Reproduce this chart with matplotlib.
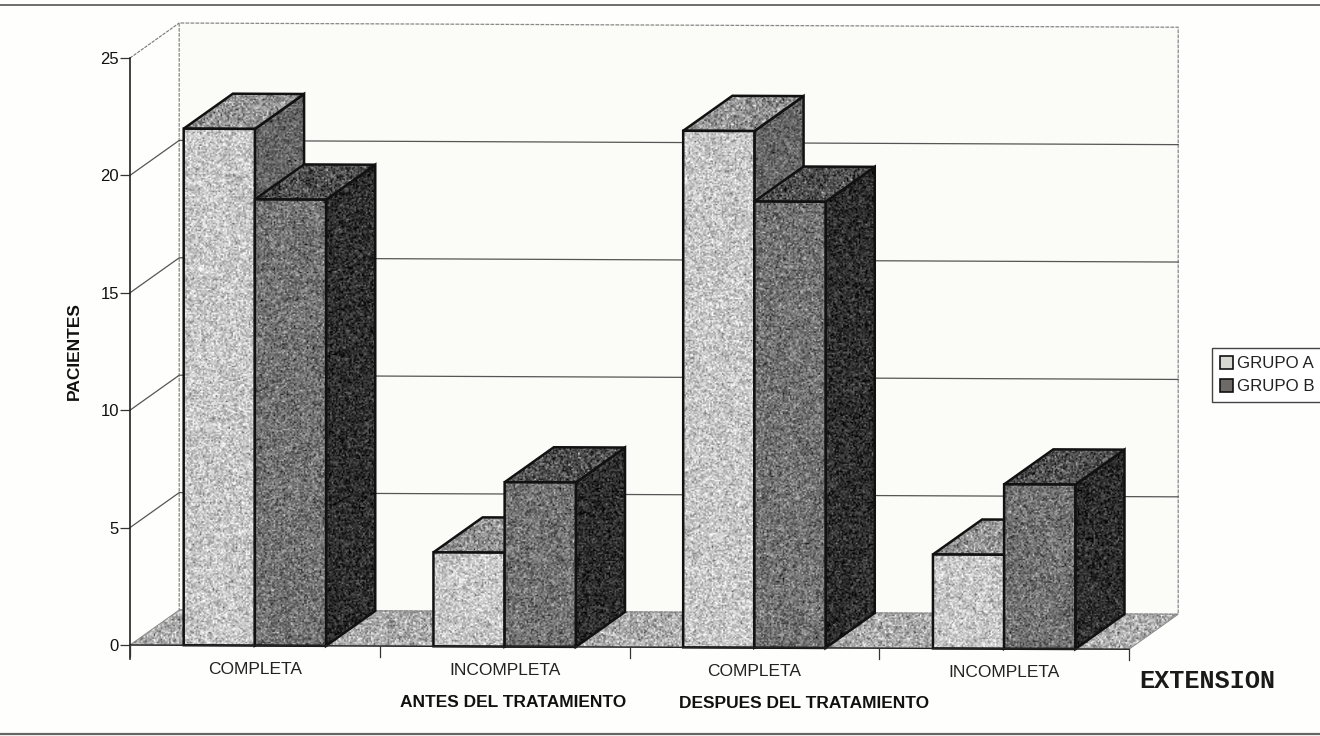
import matplotlib
matplotlib.use("Agg")
import matplotlib.pyplot as plt
import numpy as np
from matplotlib.patches import Patch, Polygon

categorias = ["COMPLETA", "INCOMPLETA", "COMPLETA", "INCOMPLETA"]
grupo_a = [22, 4, 22, 4]
grupo_b = [19, 7, 19, 7]
y_ticks = [0, 5, 10, 15, 20, 25]
grid_values = [5, 10, 15, 20]
periodos = ["ANTES DEL TRATAMIENTO", "DESPUES DEL TRATAMIENTO"]

W, H = 1320, 736
BAR = 0.285
DX, DY = 0.197, 1.49    # depth of the 3D box, in category / value units
TILT = -0.045           # the scanned page runs slightly downhill

plt.rcParams["font.family"] = ["Liberation Sans", "DejaVu Sans"]
rng = np.random.default_rng(7)

fig = plt.figure(figsize=(W / 100, H / 100), dpi=100, facecolor="#fefefc")
ax = fig.add_axes([130 / W, (H - 645) / H, 999 / W, 587 / H])
ax.set_facecolor("none")


def pt(x, y, depth=0.0):
    return (x + depth * DX, y + depth * DY + x * TILT)


def grainy(points, mean, spread, z, edge="#111111", lw=1.8):
    # stippled fill: a noise image clipped to the polygon, outline on top
    pts = np.array(points)
    x0, y0 = pts.min(axis=0)
    x1, y1 = pts.max(axis=0)
    nx = max(int((x1 - x0) * 250 / 1.4), 2)
    ny = max(int((y1 - y0) * 23.5 / 1.4), 2)
    tex = np.clip(mean + spread * rng.normal(size=(ny, nx)), 0, 1)
    im = ax.imshow(tex, extent=(x0, x1, y0, y1), origin="lower", aspect="auto",
                   cmap="gray", vmin=0, vmax=1, interpolation="bilinear", zorder=z)
    poly = Polygon(points, closed=True, fc="none", ec=edge, lw=lw, zorder=z + 0.1,
                   joinstyle="miter", clip_on=False)
    ax.add_patch(poly)
    im.set_clip_box(fig.bbox)
    im.set_clip_path(poly)


def box(x0, width, value, front, top, side, z):
    x1 = x0 + width
    grainy([pt(x1, 0), pt(x1, 0, 1), pt(x1, value, 1), pt(x1, value)], side, 0.11, z)
    grainy([pt(x0, value), pt(x0, value, 1), pt(x1, value, 1), pt(x1, value)], top, 0.15, z + 0.2)
    grainy([pt(x0, 0), pt(x1, 0), pt(x1, value), pt(x0, value)], front, 0.13, z + 0.4)


# back wall and floor
ax.add_patch(Polygon([pt(0, 0, 1), pt(4, 0, 1), pt(4, 25, 1), pt(0, 25, 1)],
                     fc="#fbfbf8", ec="#888888", lw=0.9, ls=(0, (3, 1)), zorder=1, clip_on=False))
grainy([pt(0, 0), pt(0, 0, 1), pt(4, 0, 1), pt(4, 0)], 0.68, 0.15, 1.5, edge="#888888", lw=0.7)
ax.plot(*zip(pt(0, 25), pt(0, 25, 1)), color="#777777", lw=0.8, ls=(0, (3, 1)), zorder=2, clip_on=False)

for v in grid_values:
    ax.plot(*zip(pt(0, v), pt(0, v, 1), pt(4, v, 1)), color="#555555", lw=0.9, zorder=2, clip_on=False)

# bars, left to right so each box overlaps the previous one
for i in range(len(categorias)):
    z = 3 + i
    box(i + 0.5 - BAR, BAR, grupo_a[i], 0.78, 0.58, 0.40, z)
    box(i + 0.5, BAR, grupo_b[i], 0.45, 0.31, 0.18, z + 0.5)

# axes lines and ticks
ax.plot(*zip(pt(0, 0), pt(4, 0)), color="#222222", lw=1.0, zorder=9, clip_on=False)
ax.plot([0, 0], [-0.6, 25], color="#222222", lw=1.2, zorder=9, clip_on=False)
for i in range(5):
    ax.plot(*zip(pt(i, 0), pt(i, -0.45)), color="#333333", lw=0.9, zorder=9, clip_on=False)

ax.set_xlim(0, 4)
ax.set_ylim(0, 25)
for s in ax.spines.values():
    s.set_visible(False)
ax.set_xticks([])
ax.set_yticks(y_ticks)
ax.tick_params(axis="y", length=7, width=0.9, color="#333333", pad=1, labelsize=12, labelcolor="#111111")
ax.set_ylabel("PACIENTES", fontsize=12.5, fontweight="bold", color="#111111", labelpad=13)

for i, c in enumerate(categorias):
    x, y = pt(i + 0.5, -1.0)
    ax.text(x, y, c, ha="center", va="center", fontsize=12.5, color="#222222")
ax.text(1.535, -2.45, periodos[0], ha="center", va="center", fontsize=12.5, fontweight="bold", color="#111111")
ax.text(2.70, -2.5, periodos[1], ha="center", va="center", fontsize=12.5, fontweight="bold", color="#111111")
ax.text(4.04, -1.55, "EXTENSION", ha="left", va="center", fontsize=18.2, fontweight="bold",
        family="Liberation Mono", color="#1a1a1a")

handles = [Patch(fc="#d8d8d2", ec="#111111", lw=1.2), Patch(fc="#6e6a67", ec="#111111", lw=1.2)]
fig.legend(handles, ["GRUPO A", "GRUPO B"], loc="center left", bbox_to_anchor=(1212 / W, 1 - 375 / H),
           frameon=True, fancybox=False, edgecolor="#444444", facecolor="white", framealpha=1,
           fontsize=12.2, labelcolor="#222222", handlelength=0.8, handleheight=0.8,
           handletextpad=0.25, borderpad=0.45, borderaxespad=0, labelspacing=0.45)

# page frame
fig.add_artist(plt.Line2D([0, 1], [1 - 5 / H] * 2, color="#555555", lw=1.2))
fig.add_artist(plt.Line2D([0, 1], [1 - 734 / H] * 2, color="#666666", lw=1.6))

fig.savefig("out.png", dpi=100, facecolor=fig.get_facecolor())
